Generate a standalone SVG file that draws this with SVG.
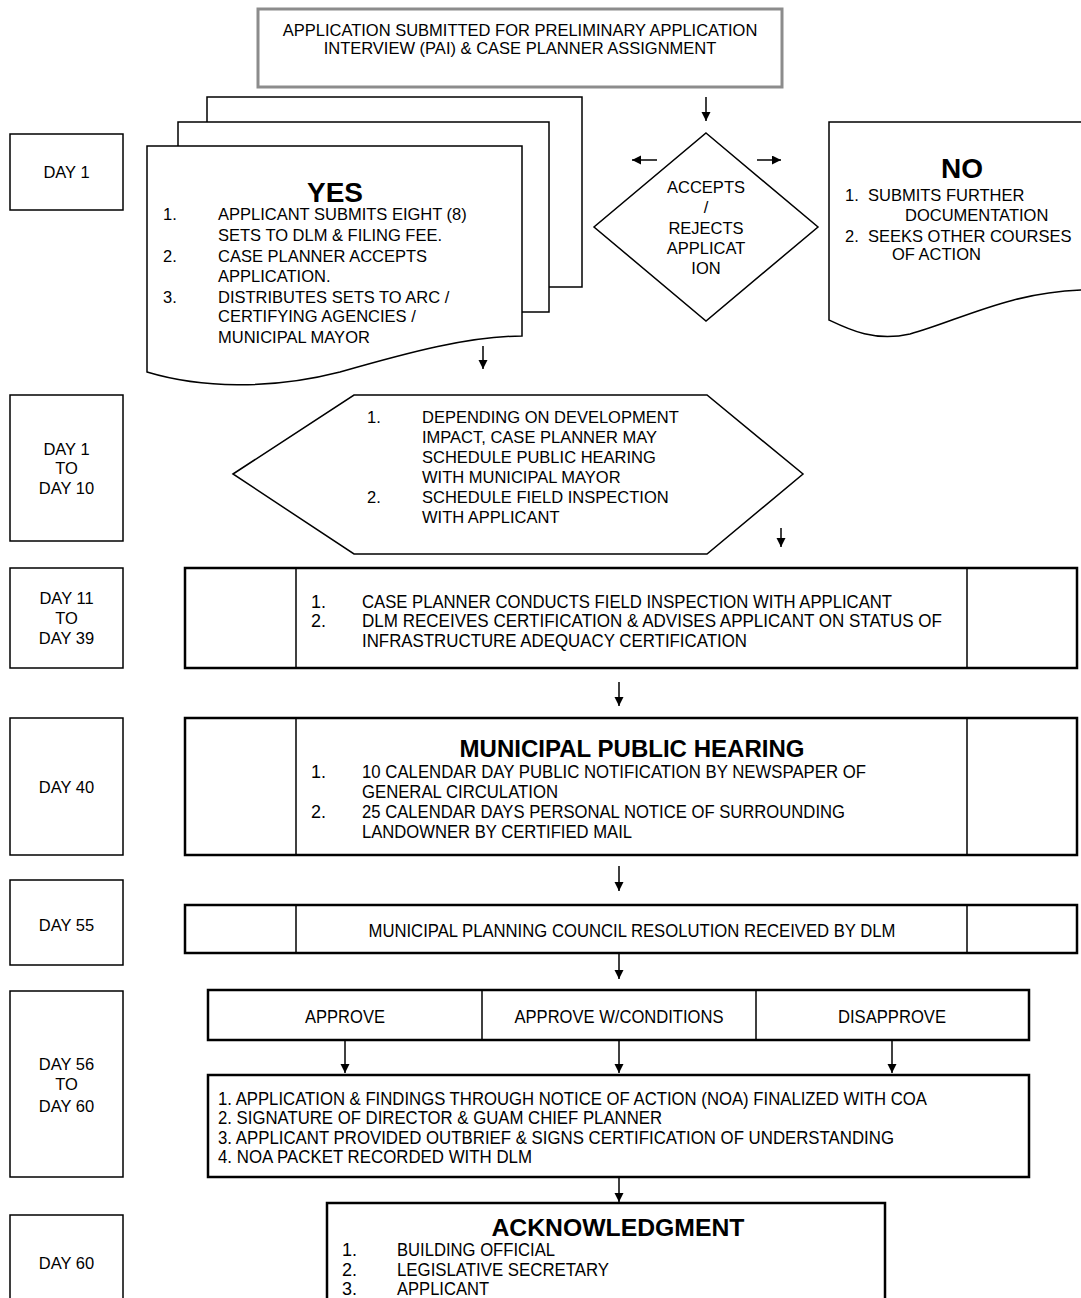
<svg xmlns="http://www.w3.org/2000/svg" width="1081" height="1298" viewBox="0 0 1081 1298">
<style>
.t{font-family:"Liberation Sans",Arial,sans-serif;font-size:16.5px;fill:#000}
.n{font-family:"Liberation Sans",Arial,sans-serif;font-size:18px;fill:#000}
.c{text-anchor:middle}
.b{font-weight:bold}
.box{fill:#fff;stroke:#000;stroke-width:1.5}
.row{fill:#fff;stroke:#000;stroke-width:2.5}
.div{stroke:#000;stroke-width:1.5}
.con{stroke:#000;stroke-width:1.5;fill:none;marker-end:url(#ah)}
</style>
<defs>
<marker id="ah" markerUnits="userSpaceOnUse" markerWidth="10" markerHeight="10" refX="9" refY="4.5" orient="auto">
<path d="M0,0 L9,4.5 L0,9 Z" fill="#000"/>
</marker>
</defs>
<rect width="1081" height="1298" fill="#fff"/>

<g id="start">
<rect x="258" y="9" width="524" height="78" fill="#fff" stroke="#8c8c8c" stroke-width="3"/>
<text class="t c" x="520" y="36">APPLICATION SUBMITTED FOR PRELIMINARY APPLICATION</text>
<text class="t c" x="520" y="54">INTERVIEW (PAI) &amp; CASE PLANNER ASSIGNMENT</text>
</g>

<g id="day1">
<rect class="box" x="10" y="134" width="113" height="76"/>
<text class="t c" x="66.5" y="178">DAY 1</text>
</g>
<g id="day1-10">
<rect class="box" x="10" y="395" width="113" height="146"/>
<text class="t c" x="66.5" y="455">DAY 1</text>
<text class="t c" x="66.5" y="474">TO</text>
<text class="t c" x="66.5" y="494">DAY 10</text>
</g>
<g id="day11-39">
<rect class="box" x="10" y="568" width="113" height="100"/>
<text class="t c" x="66.5" y="604">DAY 11</text>
<text class="t c" x="66.5" y="624">TO</text>
<text class="t c" x="66.5" y="644">DAY 39</text>
</g>
<g id="day40">
<rect class="box" x="10" y="718" width="113" height="137"/>
<text class="t c" x="66.5" y="793">DAY 40</text>
</g>
<g id="day55">
<rect class="box" x="10" y="880" width="113" height="85"/>
<text class="t c" x="66.5" y="931">DAY 55</text>
</g>
<g id="day56-60">
<rect class="box" x="10" y="991" width="113" height="186"/>
<text class="t c" x="66.5" y="1070">DAY 56</text>
<text class="t c" x="66.5" y="1090">TO</text>
<text class="t c" x="66.5" y="1112">DAY 60</text>
</g>
<g id="day60">
<rect class="box" x="10" y="1215" width="113" height="90"/>
<text class="t c" x="66.5" y="1269">DAY 60</text>
</g>

<g id="yes">
<rect class="box" x="207" y="97" width="375" height="190"/>
<rect class="box" x="178" y="122" width="371" height="190"/>
<path class="box" d="M147,146 H522 V336 C470,336 410,352 340,372 C270,390 200,388 147,372 Z"/>
<text class="t c b" x="335" y="202" style="font-size:28px">YES</text>
<text class="t" x="163" y="220">1.</text>
<text class="t" x="218" y="220">APPLICANT SUBMITS EIGHT (8)</text>
<text class="t" x="218" y="241">SETS TO DLM &amp; FILING FEE.</text>
<text class="t" x="163" y="262">2.</text>
<text class="t" x="218" y="262">CASE PLANNER ACCEPTS</text>
<text class="t" x="218" y="282">APPLICATION.</text>
<text class="t" x="163" y="303">3.</text>
<text class="t" x="218" y="303">DISTRIBUTES SETS TO ARC /</text>
<text class="t" x="218" y="322">CERTIFYING AGENCIES /</text>
<text class="t" x="218" y="343">MUNICIPAL MAYOR</text>
</g>

<g id="decision">
<path class="box" d="M706,133 L818,227 L706,321 L594,227 Z"/>
<text class="t c" x="706" y="193">ACCEPTS</text>
<text class="t c" x="706" y="213">/</text>
<text class="t c" x="706" y="234">REJECTS</text>
<text class="t c" x="706" y="254">APPLICAT</text>
<text class="t c" x="706" y="274">ION</text>
</g>

<g id="no">
<path class="box" d="M829,122 H1083 V290 C1010,292 960,320 910,334 C875,342 850,330 829,320 Z"/>
<text class="t c b" x="962" y="178" style="font-size:28px">NO</text>
<text class="t" x="845" y="201">1.</text>
<text class="t" x="868" y="201">SUBMITS FURTHER</text>
<text class="t" x="905" y="221">DOCUMENTATION</text>
<text class="t" x="845" y="242">2.</text>
<text class="t" x="868" y="242">SEEKS OTHER COURSES</text>
<text class="t" x="892" y="260">OF ACTION</text>
</g>

<g id="schedule">
<path class="box" d="M233,474 L354,395 L707,395 L803,474 L707,554 L354,554 Z"/>
<text class="t" x="367" y="423">1.</text>
<text class="t" x="422" y="423">DEPENDING ON DEVELOPMENT</text>
<text class="t" x="422" y="443">IMPACT, CASE PLANNER MAY</text>
<text class="t" x="422" y="463">SCHEDULE PUBLIC HEARING</text>
<text class="t" x="422" y="483">WITH MUNICIPAL MAYOR</text>
<text class="t" x="367" y="503">2.</text>
<text class="t" x="422" y="503">SCHEDULE FIELD INSPECTION</text>
<text class="t" x="422" y="523">WITH APPLICANT</text>
</g>

<g id="inspection">
<rect class="row" x="185" y="568" width="892" height="100"/>
<line class="div" x1="296" y1="568" x2="296" y2="668"/>
<line class="div" x1="967" y1="568" x2="967" y2="668"/>
<text class="n" x="311" y="608">1.</text>
<text class="n" x="362" y="608" textLength="530" lengthAdjust="spacingAndGlyphs">CASE PLANNER CONDUCTS FIELD INSPECTION WITH APPLICANT</text>
<text class="n" x="311" y="627">2.</text>
<text class="n" x="362" y="627" textLength="580" lengthAdjust="spacingAndGlyphs">DLM RECEIVES CERTIFICATION &amp; ADVISES APPLICANT ON STATUS OF</text>
<text class="n" x="362" y="647" textLength="385" lengthAdjust="spacingAndGlyphs">INFRASTRUCTURE ADEQUACY CERTIFICATION</text>
</g>

<g id="hearing">
<rect class="row" x="185" y="718" width="892" height="137"/>
<line class="div" x1="296" y1="718" x2="296" y2="855"/>
<line class="div" x1="967" y1="718" x2="967" y2="855"/>
<text class="n c b" x="632" y="757" style="font-size:23px" textLength="345" lengthAdjust="spacingAndGlyphs">MUNICIPAL PUBLIC HEARING</text>
<text class="n" x="311" y="778">1.</text>
<text class="n" x="362" y="778" textLength="504" lengthAdjust="spacingAndGlyphs">10 CALENDAR DAY PUBLIC NOTIFICATION BY NEWSPAPER OF</text>
<text class="n" x="362" y="798" textLength="196" lengthAdjust="spacingAndGlyphs">GENERAL CIRCULATION</text>
<text class="n" x="311" y="818">2.</text>
<text class="n" x="362" y="818" textLength="483" lengthAdjust="spacingAndGlyphs">25 CALENDAR DAYS PERSONAL NOTICE OF SURROUNDING</text>
<text class="n" x="362" y="838" textLength="270" lengthAdjust="spacingAndGlyphs">LANDOWNER BY CERTIFIED MAIL</text>
</g>

<g id="resolution">
<rect class="row" x="185" y="905" width="892" height="48"/>
<line class="div" x1="296" y1="905" x2="296" y2="953"/>
<line class="div" x1="967" y1="905" x2="967" y2="953"/>
<text class="n c" x="632" y="937" textLength="527" lengthAdjust="spacingAndGlyphs">MUNICIPAL PLANNING COUNCIL RESOLUTION RECEIVED BY DLM</text>
</g>

<g id="decisions">
<rect class="row" x="208" y="990" width="821" height="50"/>
<line class="div" x1="482" y1="990" x2="482" y2="1040"/>
<line class="div" x1="756" y1="990" x2="756" y2="1040"/>
<text class="n c" x="345" y="1023" textLength="80" lengthAdjust="spacingAndGlyphs">APPROVE</text>
<text class="n c" x="619" y="1023" textLength="209" lengthAdjust="spacingAndGlyphs">APPROVE W/CONDITIONS</text>
<text class="n c" x="892" y="1023" textLength="108" lengthAdjust="spacingAndGlyphs">DISAPPROVE</text>
</g>

<g id="noa">
<rect class="row" x="208" y="1075" width="821" height="102"/>
<text class="n" x="218" y="1105" textLength="709" lengthAdjust="spacingAndGlyphs">1. APPLICATION &amp; FINDINGS THROUGH NOTICE OF ACTION (NOA) FINALIZED WITH COA</text>
<text class="n" x="218" y="1124" textLength="444" lengthAdjust="spacingAndGlyphs">2. SIGNATURE OF DIRECTOR &amp; GUAM CHIEF PLANNER</text>
<text class="n" x="218" y="1144" textLength="676" lengthAdjust="spacingAndGlyphs">3. APPLICANT PROVIDED OUTBRIEF &amp; SIGNS CERTIFICATION OF UNDERSTANDING</text>
<text class="n" x="218" y="1163" textLength="314" lengthAdjust="spacingAndGlyphs">4. NOA PACKET RECORDED WITH DLM</text>
</g>

<g id="acknowledgment">
<rect class="row" x="327" y="1203" width="558" height="110"/>
<text class="n c b" x="618" y="1236" style="font-size:23px" textLength="253" lengthAdjust="spacingAndGlyphs">ACKNOWLEDGMENT</text>
<text class="n" x="342" y="1256">1.</text>
<text class="n" x="397" y="1256" textLength="158" lengthAdjust="spacingAndGlyphs">BUILDING OFFICIAL</text>
<text class="n" x="342" y="1276">2.</text>
<text class="n" x="397" y="1276" textLength="212" lengthAdjust="spacingAndGlyphs">LEGISLATIVE SECRETARY</text>
<text class="n" x="342" y="1295">3.</text>
<text class="n" x="397" y="1295" textLength="92" lengthAdjust="spacingAndGlyphs">APPLICANT</text>
</g>

<g id="connectors">
<line class="con" x1="706" y1="97" x2="706" y2="121"/>
<line class="con" x1="657" y1="160" x2="632" y2="160"/>
<line class="con" x1="757" y1="160" x2="781" y2="160"/>
<line class="con" x1="483" y1="346" x2="483" y2="369"/>
<line class="con" x1="781" y1="528" x2="781" y2="547"/>
<line class="con" x1="619" y1="682" x2="619" y2="706"/>
<line class="con" x1="619" y1="866" x2="619" y2="891"/>
<line class="con" x1="619" y1="954" x2="619" y2="979"/>
<line class="con" x1="345" y1="1041" x2="345" y2="1073"/>
<line class="con" x1="619" y1="1041" x2="619" y2="1073"/>
<line class="con" x1="892" y1="1041" x2="892" y2="1073"/>
<line class="con" x1="619" y1="1178" x2="619" y2="1202"/>
</g>
</svg>
